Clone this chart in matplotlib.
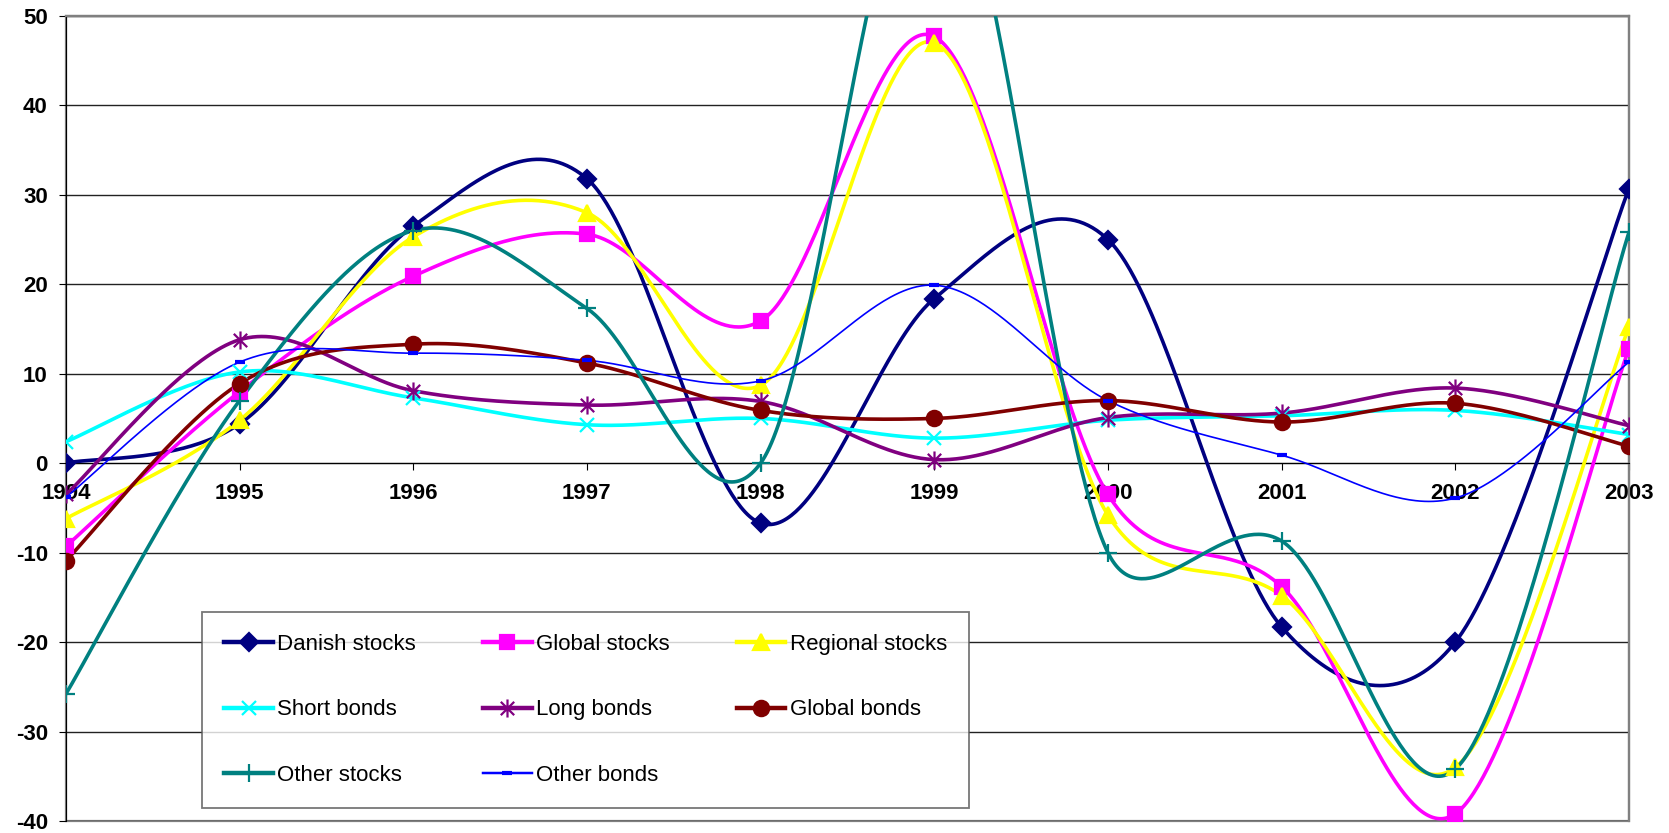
import matplotlib
matplotlib.use("Agg")
import matplotlib.pyplot as plt
import numpy as np
from matplotlib.lines import Line2D
from matplotlib.path import Path
from matplotlib.patches import Rectangle

plt.rcParams['font.family'] = ['Liberation Sans', 'DejaVu Sans']
plt.rcParams['axes.unicode_minus'] = False

# Annual returns (%) per asset class
years = [1994, 1995, 1996, 1997, 1998, 1999, 2000, 2001, 2002, 2003]
danish_stocks = [0.0, 4.4, 26.5, 31.8, -6.7, 18.4, 25.0, -18.3, -20.0, 30.7]
global_stocks = [-9.3, 8.0, 20.9, 25.6, 15.9, 47.7, -3.5, -13.8, -39.2, 12.8]
regional_stocks = [-6.2, 4.8, 25.3, 28.0, 8.7, 47.0, -5.8, -14.8, -34.0, 15.2]
short_bonds = [2.4, 10.2, 7.3, 4.3, 5.0, 2.8, 4.8, 5.3, 5.9, 3.2]
long_bonds = [-3.5, 13.8, 8.1, 6.5, 6.9, 0.4, 5.1, 5.6, 8.4, 4.2]
global_bonds = [-10.9, 8.9, 13.3, 11.2, 5.9, 5.0, 7.0, 4.6, 6.7, 1.9]
other_stocks = [-25.8, 7.0, 26.0, 17.3, 0.0, 70.5, -10.0, -8.7, -34.2, 25.8]
other_bonds = [-3.8, 11.3, 12.3, 11.5, 9.2, 19.9, 7.0, 0.9, -3.9, 11.3]

# asterisk marker (x with a vertical bar)
asterisk = Path([(-1, -1), (1, 1), (-1, 1), (1, -1), (0, -1.35), (0, 1.35)],
                [Path.MOVETO, Path.LINETO, Path.MOVETO, Path.LINETO,
                 Path.MOVETO, Path.LINETO])

series = [
    ("Danish stocks", danish_stocks, "#000080", "D", 9, 2.6),
    ("Global stocks", global_stocks, "#FF00FF", "s", 10.5, 2.6),
    ("Regional stocks", regional_stocks, "#FFFF00", "^", 11, 2.6),
    ("Short bonds", short_bonds, "#00FFFF", "x", 10.5, 2.6),
    ("Long bonds", long_bonds, "#800080", asterisk, 13, 2.6),
    ("Global bonds", global_bonds, "#800000", "o", 11, 2.6),
    ("Other stocks", other_stocks, "#008080", "+", 13, 2.6),
    ("Other bonds", other_bonds, "#0000FF", "_", 7, 1.2),
]


def smooth(ax, x, y, n=80):
    # spreadsheet-style Bezier smoothing, worked out in display space:
    # control arms are (next - prev)/6, capped at half the segment length
    pts = ax.transData.transform(np.column_stack([x, y]).astype(float))
    t = np.linspace(0, 1, n)[:, None]
    out = []
    for i in range(len(pts) - 1):
        p0 = pts[i - 1] if i > 0 else pts[i]
        p1 = pts[i]
        p2 = pts[i + 1]
        p3 = pts[i + 2] if i + 2 < len(pts) else pts[i + 1]
        half = np.hypot(*(p2 - p1)) / 2
        a1 = (p2 - p0) / 6
        a2 = (p3 - p1) / 6
        l1, l2 = np.hypot(*a1), np.hypot(*a2)
        if l1 > half:
            a1 = a1 * half / l1
        if l2 > half:
            a2 = a2 * half / l2
        c1 = p1 + a1
        c2 = p2 - a2
        seg = ((1 - t) ** 3 * p1 + 3 * (1 - t) ** 2 * t * c1
               + 3 * (1 - t) * t ** 2 * c2 + t ** 3 * p2)
        out.append(seg if i == 0 else seg[1:])
    out = ax.transData.inverted().transform(np.vstack(out))
    return out[:, 0], out[:, 1]


fig = plt.figure(figsize=(16.69, 8.33), dpi=100)
ax = fig.add_axes([0.0395, 0.0144, 0.9365, 0.9665])
ax.set_xlim(1994, 2003)
ax.set_ylim(-40, 50)

handles = {}
for name, vals, color, marker, ms, lw in series:
    sx, sy = smooth(ax, years, vals)
    ax.plot(sx, sy, color=color, lw=lw, zorder=3, solid_capstyle='round')
    mew = 3 if marker == "_" else 1.6
    ax.plot(years, vals, linestyle='none', marker=marker, ms=ms, color=color,
            mec=color, mew=mew, zorder=4)
    handles[name] = Line2D([], [], color=color, lw=lw + 0.6, marker=marker,
                           ms=ms, mec=color, mew=mew)

ax.set_yticks(np.arange(-40, 51, 10))
ax.set_xticks(years)
ax.yaxis.grid(True, color='#222222', lw=1.0)
ax.set_axisbelow(True)

ax.spines['bottom'].set_position(('data', 0))
ax.spines['bottom'].set_color('black')
ax.spines['left'].set_color('black')
ax.spines['top'].set_color('#808080')
ax.spines['right'].set_color('#808080')
ax.spines['top'].set_linewidth(1.6)
ax.spines['right'].set_linewidth(1.6)
ax.add_patch(Rectangle((0, 0), 1, 1, transform=ax.transAxes, fill=False,
                       edgecolor='#808080', lw=1.6, zorder=0.5, clip_on=False))

ax.tick_params(axis='x', direction='out', length=5, pad=9, labelsize=16)
ax.tick_params(axis='y', direction='out', length=5, pad=8, labelsize=16)
for lab in ax.get_xticklabels() + ax.get_yticklabels():
    lab.set_fontweight('bold')

# legend rows: Danish/Global/Regional, Short/Long/Global bonds, Other stocks/Other bonds
order = ["Danish stocks", "Short bonds", "Other stocks",
         "Global stocks", "Long bonds", "Other bonds",
         "Regional stocks", "Global bonds"]
leg = ax.legend([handles[k] for k in order], order, ncol=3,
                loc='lower left', bbox_to_anchor=(0.087, 0.016, 0.491, 0.244),
                mode='expand', fontsize=16, frameon=True, fancybox=False,
                edgecolor='#555555', handlelength=2.2, handletextpad=0.2,
                labelspacing=2.0, borderpad=1.0, columnspacing=2.5,
                borderaxespad=0)
leg.get_frame().set_linewidth(1.3)
leg.set_zorder(5)

fig.savefig("out.png", dpi=100)
